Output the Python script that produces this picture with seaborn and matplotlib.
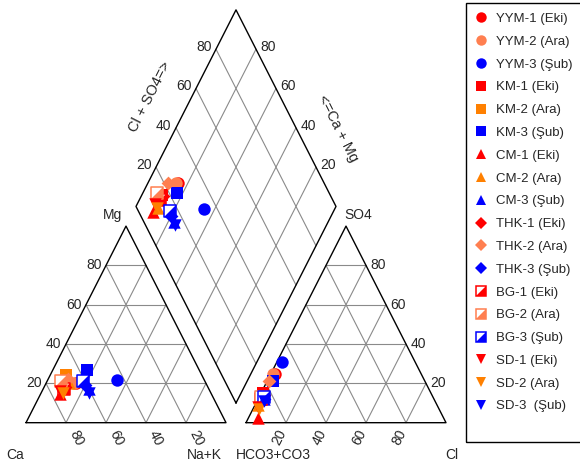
import numpy as np
import pandas as pd
import matplotlib
matplotlib.use("Agg")
import matplotlib.pyplot as plt
import seaborn as sns
from matplotlib.lines import Line2D
from matplotlib.patches import Rectangle

# ---------------- data (percent, meq) ----------------
labels = ["YYM-1 (Eki)", "YYM-2 (Ara)", "YYM-3 (Şub)",
          "KM-1 (Eki)", "KM-2 (Ara)", "KM-3 (Şub)",
          "CM-1 (Eki)", "CM-2 (Ara)", "CM-3 (Şub)",
          "THK-1 (Eki)", "THK-2 (Ara)", "THK-3 (Şub)",
          "BG-1 (Eki)", "BG-2 (Ara)", "BG-3 (Şub)",
          "SD-1 (Eki)", "SD-2 (Ara)", "SD-3  (Şub)"]
mg   = [20, 20, 21.7, 20, 24.3, 26.8, 14.6, 20, 17, 18, 22, 19, 17, 21, 21, 16, 15, 15]
nak  = [15.2, 14, 34.7, 10, 8, 17.1, 9.7, 11.5, 23, 10.7, 10, 20, 10.4, 7, 18, 9, 11, 24]
so4  = [25, 25, 31, 15, 13, 21, 2.4, 9, 12, 14, 21, 12, 12, 13, 13, 8, 7, 11]
cl   = [2, 1, 2.3, 1, 1, 3, 4.7, 1.5, 3, 2, 1, 3, 1.6, 1, 2.5, 2, 3, 3.5]
ca   = [100 - a - b for a, b in zip(mg, nak)]
hco3 = [100 - a - b for a, b in zip(so4, cl)]

station_markers = ["o", "s", "^", "D", "bg", "v"]
season_colors = {
    "o": ["#FF0000", "#FF7F50", "#0000FF"],
    "s": ["#FF0000", "#FF8000", "#0000FF"],
    "^": ["#FF0000", "#FF8000", "#0000FF"],
    "D": ["#FF0000", "#FF7F50", "#0000FF"],
    "bg": ["#FF0000", "#FF7F50", "#0000FF"],
    "v": ["#FF0000", "#FF8000", "#0000FF"],
}
ticks = [20, 40, 60, 80]

# ---------------- geometry ----------------
h = np.sqrt(3) / 2
off = 1.1
df = pd.DataFrame({"label": labels, "Ca": ca, "Mg": mg, "NaK": nak,
                   "HCO3": hco3, "SO4": so4, "Cl": cl})
df["marker"] = [m for m in station_markers for _ in range(3)]
df["color"] = [season_colors[m][i] for m in station_markers for i in range(3)]
df["xl"] = df.NaK / 100 + df.Mg / 200
df["yl"] = df.Mg / 100 * h
df["xr"] = off + df.Cl / 100 + df.SO4 / 200
df["yr"] = df.SO4 / 100 * h
S = (df.SO4 + df.Cl) / 100
C = (df.Ca + df.Mg) / 100
df["xd"] = 1.05 + 0.5 * (S - C)
df["yd"] = 0.1 * h + h * (S + C)

sns.set_style("white")
plt.rcParams["font.family"] = ["Liberation Sans", "DejaVu Sans"]

fig = plt.figure(figsize=(5.8, 4.67), dpi=100)
ax = fig.add_axes([0, 0, 1, 1])
ax.set_xlim(-0.13, 2.77)
ax.set_ylim(-0.1952, 1.8621)
ax.axis("off")

gcol = "#8a8a8a"
glw = 0.8
# triangle grids + outlines
for x0 in (0.0, off):
    for t in np.array(ticks) / 100:
        ax.plot([x0 + t, x0 + t / 2], [0, t * h], color=gcol, lw=glw)
        ax.plot([x0 + t, x0 + (1 + t) / 2], [0, (1 - t) * h], color=gcol, lw=glw)
        ax.plot([x0 + t / 2, x0 + 1 - t / 2], [t * h, t * h], color=gcol, lw=glw)
    ax.plot([x0, x0 + 1, x0 + 0.5, x0], [0, 0, h, 0], color="black", lw=1.0)
# diamond grid
bx, by = 1.05, 0.1 * h
for t in np.array(ticks) / 100:
    ax.plot([bx + 0.5 * t, bx + 0.5 * t - 0.5], [by + h * t, by + h * t + h], color=gcol, lw=glw)
    ax.plot([bx - 0.5 * t, bx - 0.5 * t + 0.5], [by + h * t, by + h * t + h], color=gcol, lw=glw)
ax.plot([bx, bx + 0.5, bx, bx - 0.5, bx], [by, by + h, by + 2 * h, by + h, by], color="black", lw=1.0)

# rotation angle of edges in display space
def disp_angle(dx, dy):
    p0 = ax.transData.transform((0, 0))
    p1 = ax.transData.transform((dx, dy))
    return np.degrees(np.arctan2(p1[1] - p0[1], p1[0] - p0[0]))

ang_up = disp_angle(0.5, h)     # ~63
ang_dn = disp_angle(0.5, -h)    # ~-63

fs = 10
for v in ticks:
    t = v / 100
    ax.text(t / 2 - 0.022, t * h, str(v), ha="right", va="center", fontsize=fs)
    ax.text(1 - t + 0.05, -0.066, str(v), ha="center", va="center", fontsize=fs, rotation=ang_dn)
    ax.text(off + t - 0.032, -0.066, str(v), ha="center", va="center", fontsize=fs, rotation=ang_up)
    ax.text(off + 1 - t / 2 + 0.022, t * h, str(v), ha="left", va="center", fontsize=fs)
    ax.text(bx - 0.5 + 0.5 * t - 0.022, by + h + h * t + 0.01, str(v), ha="right", va="center", fontsize=fs)
    ax.text(bx + 0.5 - 0.5 * t + 0.022, by + h + h * t + 0.01, str(v), ha="left", va="center", fontsize=fs)

ax.text(0.43, 0.915, "Mg", ha="center", va="center", fontsize=fs)
ax.text(1.66, 0.915, "SO4", ha="center", va="center", fontsize=fs)
ax.text(-0.055, -0.142, "Ca", ha="center", va="center", fontsize=fs)
ax.text(0.89, -0.142, "Na+K", ha="center", va="center", fontsize=fs)
ax.text(1.235, -0.142, "HCO3+CO3", ha="center", va="center", fontsize=fs)
ax.text(2.13, -0.142, "Cl", ha="center", va="center", fontsize=fs)
ax.text(0.62, 1.435, "Cl + SO4=>", ha="center", va="center", fontsize=10.5, rotation=ang_up)
ax.text(1.56, 1.298, "<=Ca + Mg", ha="center", va="center", fontsize=10.5, rotation=ang_dn)

# ---------------- points ----------------
tri_lr = [(-1, -1), (1, -1), (1, 1)]
ms = 80
for _, r in df.iterrows():
    xs = [r.xl, r.xd, r.xr]
    ys = [r.yl, r.yd, r.yr]
    if r.marker == "bg":
        sns.scatterplot(x=xs, y=ys, marker="s", s=ms * 0.85, facecolor="white",
                        edgecolor=r.color, linewidth=1.1, ax=ax, legend=False, zorder=3)
        sns.scatterplot(x=xs, y=ys, marker=tri_lr, s=ms * 0.85, color=r.color,
                        linewidth=0, ax=ax, legend=False, zorder=3)
    else:
        size = ms * (0.62 if r.marker == "D" else 1.0)
        sns.scatterplot(x=xs, y=ys, marker=r.marker, s=size, color=r.color,
                        linewidth=0, ax=ax, legend=False, zorder=3)

# ---------------- legend ----------------
handles = []
for _, r in df.iterrows():
    if r.marker == "bg":
        h1 = Line2D([], [], ls="none", marker="s", markersize=6.8, markerfacecolor="white",
                    markeredgecolor=r.color, markeredgewidth=1.1)
        h2 = Line2D([], [], ls="none", marker=tri_lr, markersize=6.8, markerfacecolor=r.color,
                    markeredgewidth=0)
        handles.append((h1, h2))
    else:
        msz = 6.0 if r.marker == "D" else 7.5
        handles.append(Line2D([], [], ls="none", marker=r.marker, markersize=msz,
                              markerfacecolor=r.color, markeredgewidth=0))
W, H = 580, 467
leg = fig.legend(handles, list(df.label), loc="upper left",
                 bbox_to_anchor=(466 / W, 1 - 3.3 / H), frameon=False,
                 fontsize=9.5, handlelength=0.9, handletextpad=0.65,
                 labelspacing=0.8, borderpad=0.72, borderaxespad=0)
fig.add_artist(Rectangle((466 / W, 1 - 441.7 / H), 0.3, (441.7 - 3.3) / H,
                         transform=fig.transFigure, fill=False, edgecolor="black", lw=1.0))

fig.savefig("out.png", dpi=100)
